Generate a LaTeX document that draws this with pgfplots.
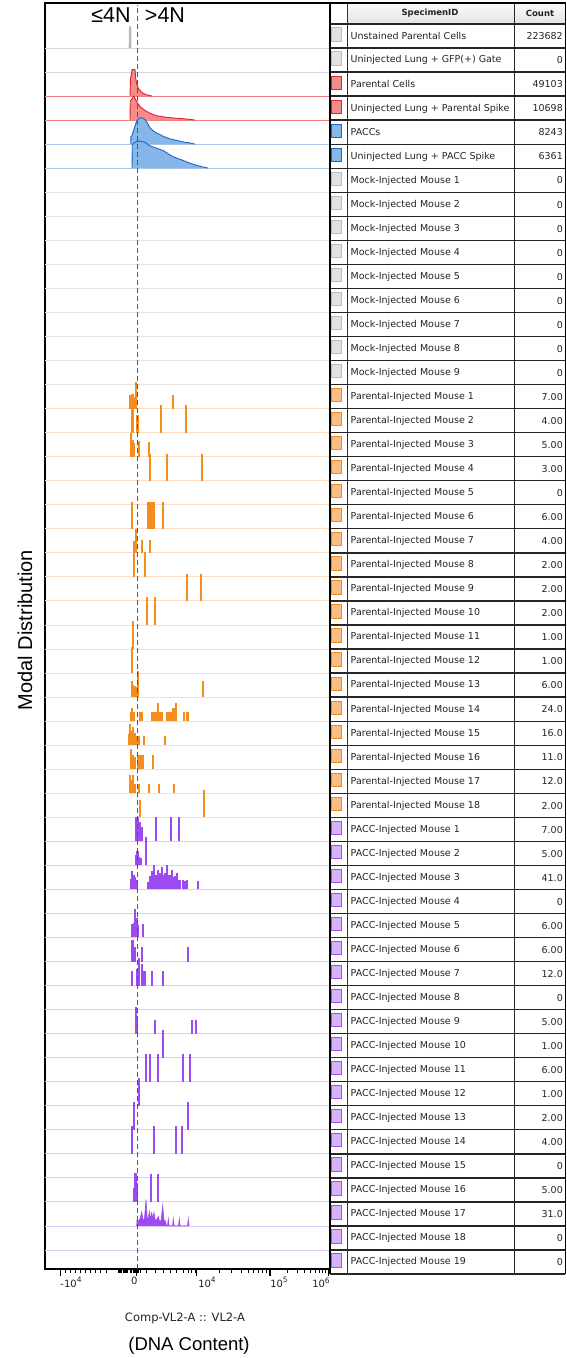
\documentclass[border=0pt]{standalone}
\usepackage{fontspec}
\setmainfont{DejaVu Sans}
\newfontfamily\lib{Liberation Sans}
\usepackage{pgfplots}
\pgfplotsset{compat=1.18}

\definecolor{txt}{RGB}{35,35,35}
\definecolor{grF}{RGB}{226,226,226}\definecolor{grD}{RGB}{188,188,188}
\definecolor{rdF}{RGB}{244,140,140}\definecolor{rdD}{RGB}{228,32,40}
\definecolor{blF}{RGB}{135,182,232}\definecolor{blD}{RGB}{25,105,195}
\definecolor{orF}{RGB}{250,190,130}\definecolor{orD}{RGB}{242,138,36}
\definecolor{puF}{RGB}{215,178,250}\definecolor{puD}{RGB}{158,84,238}
\definecolor{lnGr}{RGB}{212,216,226}
\definecolor{lnMk}{RGB}{228,228,232}
\definecolor{lnRd}{RGB}{242,130,130}
\definecolor{lnBl}{RGB}{172,200,236}
\definecolor{lnOr}{RGB}{251,220,192}
\definecolor{lnPu}{RGB}{222,204,248}
\definecolor{orS}{RGB}{245,140,30}
\definecolor{puS}{RGB}{155,75,240}
\definecolor{spk}{RGB}{185,185,185}

\newcommand\pw[2]{#1\raisebox{0.85ex}{\fontsize{7.5}{8}\selectfont #2}}

\begin{document}
\begin{tikzpicture}[x=1pt,y=1pt]
\path[use as bounding box] (0,0) rectangle (567,1358);

\begin{scope}[shift={(45pt,89pt)}]
\begin{axis}[
  anchor=origin, at={(0pt,0pt)}, scale only axis,
  width=285pt, height=1266pt,
  xmin=45, xmax=330, ymin=0.21, ymax=52.87,
  x=1pt, y=24.04pt,
  axis line style={line width=1.6pt, black},
  ytick=\empty,
  xtick={60.7,136.7,196.7,270,328.3},
  xticklabels={,,,,},
  minor xtick={65,70,75,80,85,90,95,100,106.7,118.3,119.5,120.7,121.9,123.1,124.3,125.5,126.7,127.9,130.2,131.4,133.4,134.6,135.8,137.6,138.8,140,146.7,155,163.3,170,176.7,183.3,188.3,191.7,195,219,231.8,241,248,253.8,258.7,262.9,266.6,287.5,297.7,304.9,310.5,315.1,319,322.4,325.3},
  xtick pos=bottom, tick align=outside,
  major tick length=7pt, minor tick length=4pt,
  major tick style={line width=1.5pt, black},
  minor tick style={line width=1pt, black},
  extra x ticks={71,134.3,207,279,321},
  extra x tick labels={\pw{-10}{4},0,\pw{10}{4},\pw{10}{5},\pw{10}{6}},
  extra x tick style={major tick length=0pt, tick label style={yshift=-5pt}},
  tick label style={font=\fontsize{10}{11}\selectfont, text=txt},
]
% row baselines
\addplot[xcomb, draw=lnGr, line width=0.9pt] coordinates {(330,51) (330,50)};
\addplot[xcomb, draw=lnRd, line width=0.9pt] coordinates {(330,49) (330,48)};
\addplot[xcomb, draw=lnBl, line width=0.9pt] coordinates {(330,47) (330,46)};
\addplot[xcomb, draw=lnMk, line width=0.9pt] coordinates {(330,45) (330,44) (330,43) (330,42) (330,41) (330,40) (330,39) (330,38) (330,37)};
\addplot[xcomb, draw=lnOr, line width=0.9pt] coordinates {(330,36) (330,35) (330,34) (330,33) (330,32) (330,31) (330,30) (330,29) (330,28) (330,27) (330,26) (330,25) (330,24) (330,23) (330,22) (330,21) (330,20) (330,19)};
\addplot[xcomb, draw=lnPu, line width=0.9pt] coordinates {(330,18) (330,17) (330,16) (330,15) (330,14) (330,13) (330,12) (330,11) (330,10) (330,9) (330,8) (330,7) (330,6) (330,5) (330,4) (330,3) (330,2) (330,1)};

% Unstained parental cells
\addplot[fill=spk, draw=none] table[x=x, y expr=\thisrow{h}+51] {
x h
128.7 0
129.0 0.9
131.2 0.9
131.5 0
};
% Parental cells
\addplot[fill=rdF, draw=rdD, line width=0.9pt] table[x=x, y expr=\thisrow{h}+49] {
x h
130 0
130.5 0.75
131.5 0.9
132 1.1
135 1.1
135.7 0.75
136.5 0.55
137.5 0.4
139 0.28
141 0.18
143 0.12
146 0.06
150 0.02
152 0
};
% Uninjected lung + parental spike
\addplot[fill=rdF, draw=rdD, line width=0.9pt] table[x=x, y expr=\thisrow{h}+48] {
x h
130 0
130.3 0.8
131.5 0.85
133 0.95
134 1.0
135 0.9
136.5 0.78
138 0.68
140 0.57
142 0.5
145 0.4
148 0.33
150 0.29
153 0.23
157 0.18
161 0.15
165 0.125
170 0.1
175 0.08
180 0.07
185 0.05
190 0.03
195 0
};
% PACCs
\addplot[fill=blF, draw=blD, line width=0.9pt] table[x=x, y expr=\thisrow{h}+47] {
x h
130.7 0
130.9 0.3
132 0.35
133.3 0.54
135 0.75
136.7 0.96
139 1.06
141 1.1
143 1.08
145 1.03
147 0.9
150 0.68
152.5 0.58
155 0.5
157.5 0.44
160 0.4
163 0.33
166.7 0.27
170 0.22
175 0.17
180 0.12
185 0.08
190 0.05
195 0
};
% Uninjected lung + PACC spike
\addplot[fill=blF, draw=blD, line width=0.9pt] table[x=x, y expr=\thisrow{h}+46] {
x h
132 0
132.3 0.95
133.5 1.04
136.7 1.1
140 1.13
142.5 1.1
145 1.07
147.5 1.0
150 0.93
153 0.88
156.7 0.83
160 0.78
163.3 0.73
166.7 0.64
170 0.55
173 0.48
176.7 0.42
180 0.37
183.3 0.32
186.7 0.26
190 0.21
194 0.15
198.3 0.1
202 0.06
206.7 0.02
208 0
};

% Parental-injected mice (events)
\addplot[quiver={u=0,v=\thisrow{h}}, draw=orS, line width=2.3pt] table[x=x, y expr=52-\thisrow{row}] {
x row h
130 16 0.58
132.5 16 0.6
134.5 16 0.5
136.2 16 1.12
173.3 16 0.58
132.5 17 1.0
137.5 17 0.75
161 17 1.15
186 17 1.15
131 18 1.0
132.5 18 0.7
134 18 0.55
139.3 18 0.65
149.3 18 0.63
150 19 1.1
167 19 1.1
202 19 1.1
132.3 21 1.1
147.7 21 1.1
149.7 21 1.1
152 21 1.1
154 21 1.1
163.3 21 1.1
134.5 22 0.5
136 22 1.0
141.7 22 0.55
150.3 22 0.55
134 23 1.1
145 23 1.05
186.7 24 1.1
201.3 24 1.1
147.3 25 1.15
155 25 1.15
133.3 26 1.15
131.7 27 1.1
131.7 28 0.65
133.3 28 0.5
135 28 0.45
136.5 28 0.4
138.3 28 1.1
203.3 28 0.65
130.7 29 0.4
132.3 29 0.55
134 29 0.4
140.3 29 0.4
142.3 29 0.4
152 29 0.4
154 29 0.4
156 29 0.4
157.7 29 0.75
159.5 29 0.4
161.5 29 0.4
167 29 0.4
169 29 0.4
171 29 0.4
173.5 29 0.55
175.7 29 0.75
184 29 0.4
187.5 29 0.4
129.5 30 0.45
130.3 30 0.9
131.7 30 0.6
133 30 0.75
134.5 30 0.5
136.5 30 0.4
139.3 30 0.4
144.3 30 0.4
164.7 30 0.4
131 31 0.85
133 31 0.6
134.5 31 0.5
138.5 31 0.58
140 31 0.58
141.5 31 0.58
143 31 0.58
152.7 31 0.58
130 32 0.75
131.5 32 0.55
133 32 0.76
134.5 32 0.4
139.3 32 0.4
149.3 32 0.4
159 32 0.4
174.3 32 0.4
140 33 0.7
204.3 33 1.14
};

% PACC-injected mice (events)
\addplot[quiver={u=0,v=\thisrow{h}}, draw=puS, line width=2.3pt] table[x=x, y expr=52-\thisrow{row}] {
x row h
136.5 34 1.0
138.3 34 1.0
140 34 0.8
142 34 0.6
155.7 34 1.0
171 34 1.0
179.3 34 1.0
136 35 0.45
137.5 35 0.6
139 35 0.35
141 35 0.3
146 35 1.2
130.7 36 0.45
132 36 0.75
133.5 36 0.6
135 36 0.5
136.7 36 0.4
148.3 36 0.3
150 36 0.55
152 36 0.75
154 36 1.0
156 36 0.6
158.3 36 0.8
160 36 0.7
161.7 36 0.95
163.5 36 0.6
165.5 36 0.7
167.3 36 1.0
169.5 36 0.6
171.7 36 0.8
173.5 36 0.5
175.5 36 0.55
177.3 36 0.7
179.5 36 0.4
182.7 36 0.4
184.5 36 0.35
186.7 36 0.4
198.3 36 0.35
131.7 38 0.55
134 38 0.6
135 38 1.2
136.5 38 0.8
137.5 38 0.5
143.3 38 0.55
131.7 39 0.9
133.3 39 0.9
134.2 39 0.5
135 39 0.6
142.3 39 0.6
187.7 39 0.6
131.7 40 0.6
137.5 40 0.7
139.3 40 1.15
141.7 40 0.9
143 40 0.6
145 40 0.6
151.7 40 0.6
163.3 40 0.6
136 42 1.1
137.3 42 0.6
155 42 0.55
191.7 42 0.55
196 42 0.55
162.7 43 1.15
146 44 1.15
150.3 44 1.15
157.7 44 1.15
182.7 44 1.15
190 44 1.15
139.3 45 1.15
134 46 1.15
187.7 46 1.15
132 47 1.15
153.7 47 1.15
176.3 47 1.15
182 47 1.15
134.5 49 0.6
135.5 49 1.2
136.5 49 0.8
151.3 49 1.15
157.7 49 1.15
};
% PACC-injected mouse 17 (dense)
\addplot[fill=puS, draw=puS, line width=0.6pt] table[x=x, y expr=\thisrow{h}+2] {
x h
136.7 0
137 0.25
138.5 0.2
140 0.3
141.7 0.58
143 0.25
144.5 0.3
146 1.1
147.2 0.3
148.5 0.35
149.3 0.6
150.3 0.3
151.7 0.55
152.8 0.3
154 0.55
155.2 0.25
156.5 0.25
158.3 0.4
159.5 0.2
161 0.22
162.7 0.85
164 0.25
165.5 0.2
166.5 0
167.5 0
168.3 0.3
169.1 0
172.5 0
173.3 0.3
174.1 0
178.5 0
179.3 0.3
180.1 0
187.5 0
188.3 0.3
189.1 0
};
% 4N gate
\addplot[draw={rgb,255:red,85;green,85;blue,85}, line width=0.9pt, dash pattern=on 5pt off 3pt] coordinates {(137.3,0.21) (137.3,52.8)};
\end{axis}
\end{scope}

% gate labels
\node[font=\lib\fontsize{21.5}{23}\selectfont, text=black] at (111,1358-15) {≤4N};
\node[font=\lib\fontsize{21.5}{23}\selectfont, text=black] at (165,1358-15) {>4N};
% axis titles
\node[font=\lib\fontsize{20}{22}\selectfont, rotate=90, text=black] at (25,1358-630) {Modal Distribution};
\node[font=\fontsize{11.5}{13}\selectfont, text=txt] at (185,1358-1318) {Comp-VL2-A :: VL2-A};
\node[font=\lib\fontsize{18.5}{21}\selectfont, text=black] at (189,1358-1346) {(DNA Content)};

% table header
\shade[top color=gray!4, bottom color=gray!22] (347,1358-3) rectangle (565,1358-24);
\node[font=\bfseries\fontsize{8.5}{10}\selectfont, text=txt] at (430,1358-13.5) {SpecimenID};
\node[font=\bfseries\fontsize{8.5}{10}\selectfont, text=txt] at (540,1358-13.5) {Count};

\foreach \nm/\ct/\c [count=\k] in {
Unstained Parental Cells/223682/gr,
Uninjected Lung + GFP(+) Gate/0/gr,
Parental Cells/49103/rd,
Uninjected Lung + Parental Spike/10698/rd,
PACCs/8243/bl,
Uninjected Lung + PACC Spike/6361/bl,
Mock-Injected Mouse 1/0/gr,
Mock-Injected Mouse 2/0/gr,
Mock-Injected Mouse 3/0/gr,
Mock-Injected Mouse 4/0/gr,
Mock-Injected Mouse 5/0/gr,
Mock-Injected Mouse 6/0/gr,
Mock-Injected Mouse 7/0/gr,
Mock-Injected Mouse 8/0/gr,
Mock-Injected Mouse 9/0/gr,
Parental-Injected Mouse 1/7.00/or,
Parental-Injected Mouse 2/4.00/or,
Parental-Injected Mouse 3/5.00/or,
Parental-Injected Mouse 4/3.00/or,
Parental-Injected Mouse 5/0/or,
Parental-Injected Mouse 6/6.00/or,
Parental-Injected Mouse 7/4.00/or,
Parental-Injected Mouse 8/2.00/or,
Parental-Injected Mouse 9/2.00/or,
Parental-Injected Mouse 10/2.00/or,
Parental-Injected Mouse 11/1.00/or,
Parental-Injected Mouse 12/1.00/or,
Parental-Injected Mouse 13/6.00/or,
Parental-Injected Mouse 14/24.0/or,
Parental-Injected Mouse 15/16.0/or,
Parental-Injected Mouse 16/11.0/or,
Parental-Injected Mouse 17/12.0/or,
Parental-Injected Mouse 18/2.00/or,
PACC-Injected Mouse 1/7.00/pu,
PACC-Injected Mouse 2/5.00/pu,
PACC-Injected Mouse 3/41.0/pu,
PACC-Injected Mouse 4/0/pu,
PACC-Injected Mouse 5/6.00/pu,
PACC-Injected Mouse 6/6.00/pu,
PACC-Injected Mouse 7/12.0/pu,
PACC-Injected Mouse 8/0/pu,
PACC-Injected Mouse 9/5.00/pu,
PACC-Injected Mouse 10/1.00/pu,
PACC-Injected Mouse 11/6.00/pu,
PACC-Injected Mouse 12/1.00/pu,
PACC-Injected Mouse 13/2.00/pu,
PACC-Injected Mouse 14/4.00/pu,
PACC-Injected Mouse 15/0/pu,
PACC-Injected Mouse 16/5.00/pu,
PACC-Injected Mouse 17/31.0/pu,
PACC-Injected Mouse 18/0/pu,
PACC-Injected Mouse 19/0/pu}{
  \pgfmathsetmacro\yt{1358-24-24.04*(\k-1)}
  \pgfmathsetmacro\yb{\yt-24.04}
  \pgfmathsetmacro\yc{\yt-12.3}
  \draw[fill=\c F, draw=\c D, line width=0.7pt] (331.8,\yt-3.8) rectangle (341.6,\yt-17);
  \node[anchor=west, font=\fontsize{9.5}{11}\selectfont, text=txt, inner sep=0pt] at (350.5,\yc) {\nm};
  \node[anchor=east, font=\fontsize{9.5}{11}\selectfont, text=txt, inner sep=0pt] at (563,\yc) {\ct};
  \draw[line width=1.3pt, black!85] (330,\yb) -- (565,\yb);
}
% table grid
\draw[line width=1.3pt, black!85] (330,1358-24) -- (565,1358-24);
\draw[line width=0.9pt, black!80] (347,1358-3) -- (347,1358-1274);
\draw[line width=1.3pt, black!85] (514.5,1358-3) -- (514.5,1358-1274);
\draw[line width=1.6pt, black] (330,1358-3) -- (330,1358-1274);
\draw[line width=1.6pt, black] (565.5,1358-3) -- (565.5,1358-1274);
\draw[line width=1.6pt, black] (45,1358-3) -- (565.5,1358-3);
\end{tikzpicture}
\end{document}
